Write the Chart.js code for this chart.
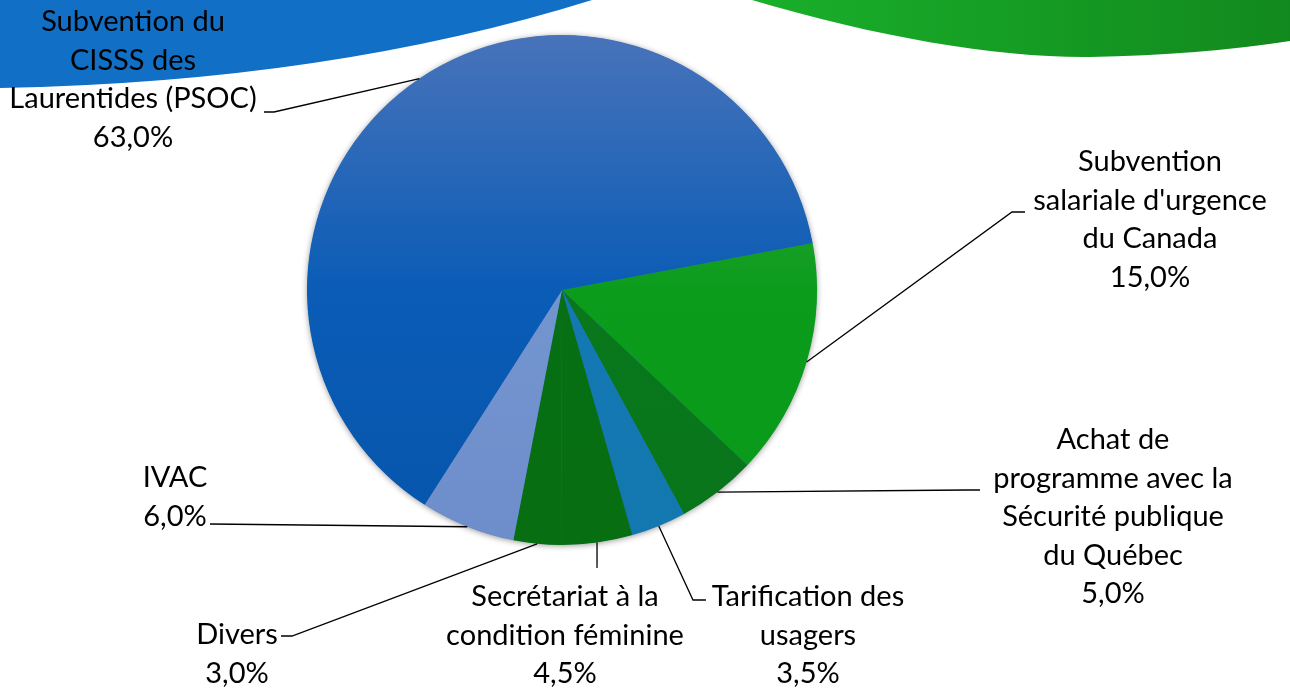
<!DOCTYPE html>
<html>
<head>
<meta charset="utf-8">
<title>Répartition des revenus</title>
<script src="https://cdn.jsdelivr.net/npm/chart.js@4.4.0/dist/chart.umd.min.js"></script>
<style>
  html, body { margin: 0; padding: 0; background: #fff; }
  #wrap { width: 1290px; height: 689px; position: relative; }
</style>
</head>
<body>
<div id="wrap"><canvas id="pie" width="1290" height="689"></canvas></div>
<script>
// data, in drawing order (clockwise)
const categories = [
  ["Subvention", "salariale d'urgence", "du Canada"],
  ["Achat de", "programme avec la", "Sécurité publique", "du Québec"],
  ["Tarification des", "usagers"],
  ["Secrétariat à la", "condition féminine"],
  ["Divers"],
  ["IVAC"],
  ["Subvention du", "CISSS des", "Laurentides (PSOC)"]
];
const values = [15.0, 5.0, 3.5, 4.5, 3.0, 6.0, 63.0];

// slice colours (top, middle, bottom of the vertical gradient)
const topColors = ['#3fa947', '#2b8a33', '#2a8cc6', '#0b7a16', '#0b7a16', '#8aa8dc', '#4873ba'];
const midColors = ['#0c9c1c', '#09771a', '#1479b2', '#077014', '#077014', '#7395cf', '#0a5cb6'];
const bottomColors = ['#0a9a1a', '#08751a', '#1378b0', '#076e12', '#076e12', '#6e8ecb', '#0755ab'];

// label layout: x centre, y of first line, leader elbow, leader end
const labelLayout = [
  { x: 1150, y: 162, elbow: [1012, 212], end: [1025, 212] },
  { x: 1113, y: 440, elbow: [966, 490], end: [980, 490] },
  { x: 808, y: 597, elbow: [693, 600], end: [706, 600] },
  { x: 565, y: 597, elbow: [597, 568], end: [597, 568] },
  { x: 237, y: 635, elbow: [292, 636], end: [281, 636] },
  { x: 175, y: 478, elbow: [210, 524], end: [210, 524] },
  { x: 133, y: 22, elbow: [274, 112], end: [264, 112] }
];
const LINE_H = 38.5;
const FONT = '29px Lato, "Open Sans", sans-serif';

function fmt(v) {
  return v.toFixed(1).replace('.', ',') + '%';
}

// slide decoration behind the chart
const backdrop = {
  id: 'backdrop',
  beforeDraw(chart) {
    const ctx = chart.ctx;
    ctx.save();
    // blue swoosh top left
    ctx.beginPath();
    ctx.moveTo(0, 0);
    ctx.lineTo(0, 88);
    ctx.quadraticCurveTo(330, 82, 592, 0);
    ctx.closePath();
    ctx.fillStyle = '#1170c6';
    ctx.fill();
    // green swoosh top right
    const g = ctx.createLinearGradient(750, 0, 1290, 0);
    g.addColorStop(0, '#19b02a');
    g.addColorStop(1, '#12891e');
    ctx.beginPath();
    ctx.moveTo(752, 0);
    ctx.bezierCurveTo(880, 38, 1000, 58, 1090, 57);
    ctx.quadraticCurveTo(1200, 55, 1290, 41);
    ctx.lineTo(1290, 0);
    ctx.closePath();
    ctx.fillStyle = g;
    ctx.fill();
    ctx.restore();
  },
  beforeDatasetsDraw(chart) {
    // soft shadow under the pie
    const arc = chart.getDatasetMeta(0).data[0];
    if (!arc) return;
    const ctx = chart.ctx;
    ctx.save();
    ctx.shadowColor = 'rgba(0,0,0,0.45)';
    ctx.shadowBlur = 6;
    ctx.shadowOffsetX = 0;
    ctx.shadowOffsetY = 1;
    ctx.beginPath();
    ctx.arc(arc.x, arc.y, arc.outerRadius - 0.5, 0, Math.PI * 2);
    ctx.fillStyle = '#2a6ab8';
    ctx.fill();
    ctx.restore();
  }
};

// labels with leader lines
const leaderLabels = {
  id: 'leaderLabels',
  afterDatasetsDraw(chart) {
    const ctx = chart.ctx;
    const arcs = chart.getDatasetMeta(0).data;
    ctx.save();
    arcs.forEach((arc, i) => {
      const lay = labelLayout[i];
      const mid = (arc.startAngle + arc.endAngle) / 2;
      const ax = arc.x + Math.cos(mid) * arc.outerRadius;
      const ay = arc.y + Math.sin(mid) * arc.outerRadius;
      ctx.beginPath();
      ctx.moveTo(ax, ay);
      ctx.lineTo(lay.elbow[0], lay.elbow[1]);
      ctx.lineTo(lay.end[0], lay.end[1]);
      ctx.strokeStyle = '#000';
      ctx.lineWidth = 1.3;
      ctx.stroke();

      const lines = categories[i].concat([fmt(values[i])]);
      ctx.font = FONT;
      ctx.fillStyle = '#000';
      ctx.textAlign = 'center';
      ctx.textBaseline = 'middle';
      lines.forEach((t, k) => ctx.fillText(t, lay.x, lay.y + k * LINE_H));
    });
    ctx.restore();
  }
};

function sliceColor(context) {
  const i = context.dataIndex;
  const area = context.chart.chartArea;
  if (!area) return midColors[i];
  const g = context.chart.ctx.createLinearGradient(0, area.top, 0, area.bottom);
  g.addColorStop(0, topColors[i]);
  g.addColorStop(0.5, midColors[i]);
  g.addColorStop(1, bottomColors[i]);
  return g;
}

new Chart(document.getElementById('pie'), {
  type: 'pie',
  data: {
    labels: categories.map(c => c.join(' ')),
    datasets: [{
      data: values,
      backgroundColor: sliceColor,
      borderWidth: 0
    }]
  },
  options: {
    responsive: false,
    animation: false,
    rotation: 79.4,
    layout: { padding: { left: 307, right: 473, top: 35, bottom: 144 } },
    plugins: {
      legend: { display: false },
      tooltip: { enabled: false }
    }
  },
  plugins: [backdrop, leaderLabels]
});
</script>
</body>
</html>
